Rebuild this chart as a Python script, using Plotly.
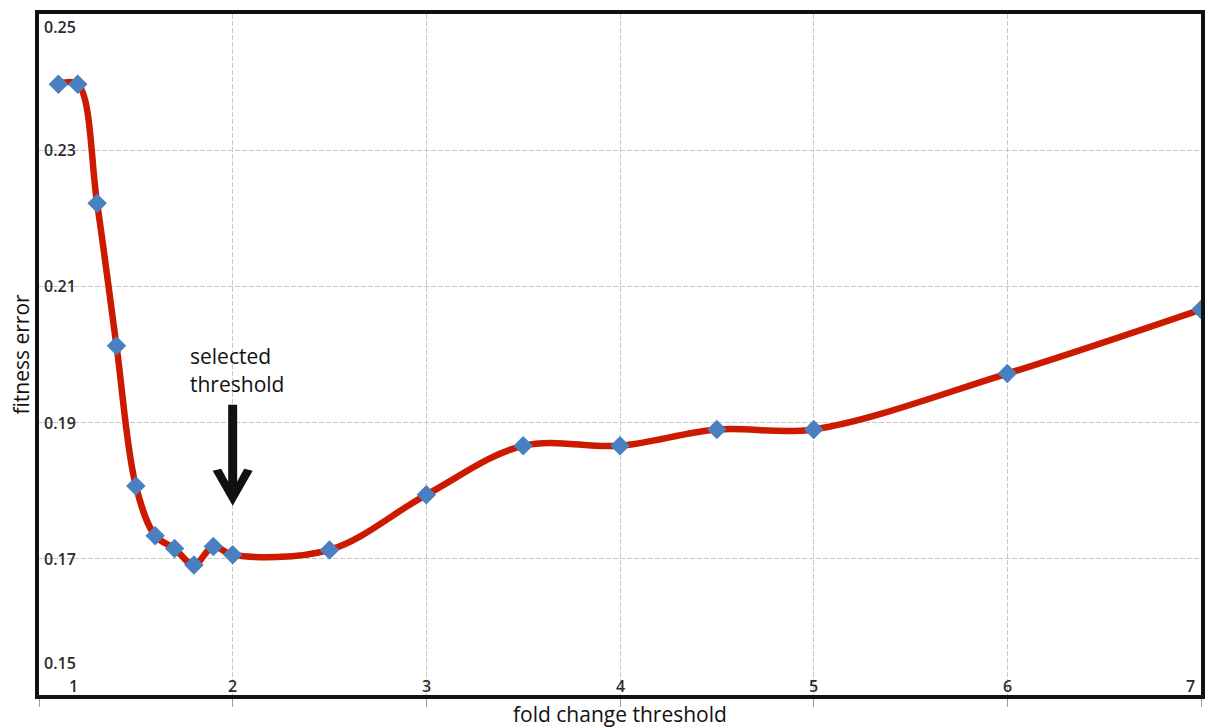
import plotly.graph_objects as go

# fold-change thresholds and the resulting fitness error
fold_change = [1.1, 1.2, 1.3, 1.4, 1.5, 1.6, 1.7, 1.8, 1.9, 2.0,
               2.5, 3.0, 3.5, 4.0, 4.5, 5.0, 6.0, 7.0]
fitness_error = [0.2397, 0.2397, 0.2222, 0.2013, 0.1807, 0.1734, 0.1715,
                 0.1691, 0.1718, 0.1706, 0.1713, 0.1794, 0.1866, 0.1866,
                 0.1890, 0.1890, 0.1972, 0.2066]

x_ticks = [1, 2, 3, 4, 5, 6, 7]
x_tick_text = ["1", "2", "3", "4", "5", "6", "7"]
y_ticks = [0.15, 0.17, 0.19, 0.21, 0.23, 0.25]
y_tick_text = ["0.15", "0.17", "0.19", "0.21", "0.23", "0.25"]

selected_threshold = 2.0
selected_error = fitness_error[fold_change.index(selected_threshold)]

FONT = "Open Sans"
TICK_COLOR = "#2a2a2a"
TEXT_COLOR = "#111111"

fig = go.Figure()
fig.add_trace(go.Scatter(
    x=fold_change, y=fitness_error, mode="lines+markers",
    line=dict(color="#cc1a00", width=6.5, shape="spline", smoothing=1),
    marker=dict(symbol="diamond", size=15, color="#4a80c0",
                line=dict(width=0)),
    hoverinfo="x+y", showlegend=False,
))

annotations = []
# x tick labels sit inside the frame, just above the bottom axis
for v, t in zip(x_ticks, x_tick_text):
    shift = 34 if v == x_ticks[0] else (-11 if v == x_ticks[-1] else 0)
    annotations.append(dict(
        x=v, y=0, xref="x", yref="paper", text=t, showarrow=False,
        xanchor="center", yanchor="middle", xshift=shift, yshift=9,
        font=dict(family=FONT, size=16, color=TICK_COLOR, weight=600)))
# y tick labels sit inside the frame, next to the left axis
for v, t in zip(y_ticks, y_tick_text):
    shift = -13 if v == y_ticks[-1] else (32 if v == y_ticks[0] else 0)
    annotations.append(dict(
        x=0, y=v, xref="paper", yref="y", text=t, showarrow=False,
        xanchor="left", yanchor="middle", xshift=3, yshift=shift,
        font=dict(family=FONT, size=16, color=TICK_COLOR, weight=600)))

# axis titles
annotations.append(dict(
    x=0.5, y=0, xref="paper", yref="paper", text="fold change threshold",
    showarrow=False, xanchor="center", yanchor="middle", yshift=-19,
    font=dict(family=FONT, size=21, color=TEXT_COLOR)))
annotations.append(dict(
    x=0, y=0.5, xref="paper", yref="paper", text="fitness error",
    showarrow=False, xanchor="center", yanchor="middle", xshift=-19,
    textangle=-90, font=dict(family=FONT, size=21, color=TEXT_COLOR)))

# callout for the chosen threshold
for line_text, dy in (("selected", 199), ("threshold", 171)):
    annotations.append(dict(
        x=selected_threshold, y=selected_error, xref="x", yref="y",
        text=line_text, showarrow=False, align="left",
        xanchor="left", yanchor="middle", xshift=-45, yshift=dy,
        font=dict(family=FONT, size=21, color=TEXT_COLOR)))

shapes = [
    # arrow shaft
    dict(type="line", xref="x", yref="y",
         xsizemode="pixel", ysizemode="pixel",
         xanchor=selected_threshold, yanchor=selected_error,
         x0=0, x1=0, y0=62, y1=150,
         line=dict(color="#111111", width=9)),
    # arrow head (chevron)
    dict(type="path", xref="x", yref="y",
         xsizemode="pixel", ysizemode="pixel",
         xanchor=selected_threshold, yanchor=selected_error,
         path="M 0 49 L -20 84 L -11.5 86 L 0 65 L 11.5 86 L 20 84 Z",
         fillcolor="#111111", line=dict(width=0)),
]

fig.update_layout(
    width=1208, height=728,
    margin=dict(l=39, r=3, t=14, b=33),
    paper_bgcolor="white", plot_bgcolor="white",
    annotations=annotations, shapes=shapes,
    xaxis=dict(range=[1, 7], tickvals=x_ticks, showticklabels=False,
               ticks="outside", ticklen=8, tickwidth=1, tickcolor="#999999",
               showgrid=True, gridcolor="#c8c8c8", gridwidth=1,
               griddash="5px,2px", zeroline=False,
               showline=True, linecolor="#111111", linewidth=4, mirror=True),
    yaxis=dict(range=[0.15, 0.25], tickvals=y_ticks, showticklabels=False,
               ticks="", showgrid=True, gridcolor="#c8c8c8", gridwidth=1,
               griddash="5px,2px", zeroline=False,
               showline=True, linecolor="#111111", linewidth=4, mirror=True),
)

fig.write_html("out.html")
